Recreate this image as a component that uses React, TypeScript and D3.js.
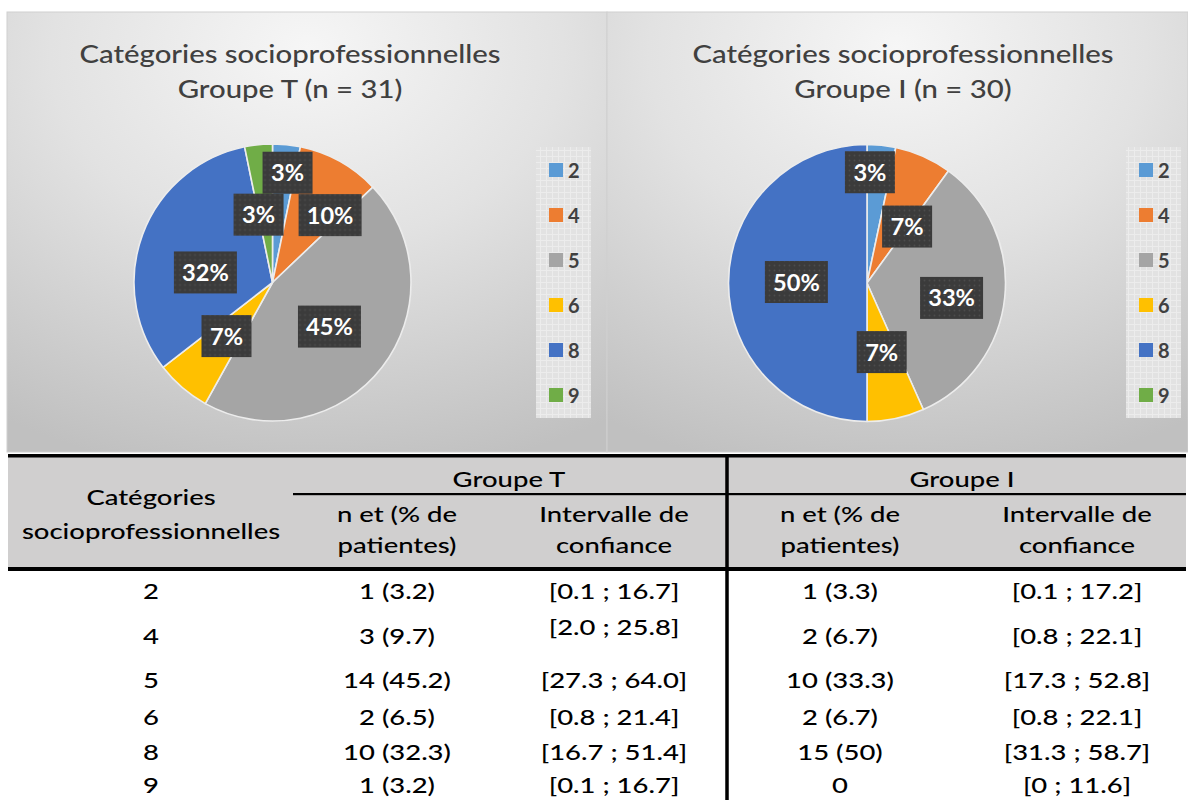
import React from "react";
import * as d3 from "d3";

// ---------- data ----------
const categories = ["2", "4", "5", "6", "8", "9"];
const groupTCounts = [1, 3, 14, 2, 10, 1];
const groupICounts = [1, 2, 10, 2, 15, 0];
const titleT = ["Catégories socioprofessionnelles", "Groupe T (n = 31)"];
const titleI = ["Catégories socioprofessionnelles", "Groupe I (n = 30)"];

const tableTN = ["1 (3.2)", "3 (9.7)", "14 (45.2)", "2 (6.5)", "10 (32.3)", "1 (3.2)"];
const tableTCI = ["[0.1 ; 16.7]", "[2.0 ; 25.8]", "[27.3 ; 64.0]", "[0.8 ; 21.4]", "[16.7 ; 51.4]", "[0.1 ; 16.7]"];
const tableIN = ["1 (3.3)", "2 (6.7)", "10 (33.3)", "2 (6.7)", "15 (50)", "0"];
const tableICI = ["[0.1 ; 17.2]", "[0.8 ; 22.1]", "[17.3 ; 52.8]", "[0.8 ; 22.1]", "[31.3 ; 58.7]", "[0 ; 11.6]"];
const headerCat = ["Catégories", "socioprofessionnelles"];
const headerGroups = ["Groupe T", "Groupe I"];
const headerN = ["n et (% de", "patientes)"];
const headerCI = ["Intervalle de", "confiance"];

// ---------- styles / layout ----------
const sliceColors = ["#5B9BD5", "#ED7D31", "#A5A5A5", "#FFC000", "#4472C4", "#70AD47"];
// label placement (fraction of radius, angular shift in degrees) — Excel best-fit
const labelRadiusT = [0.8, 0.64, 0.52, 0.51, 0.49, 0.5];
const labelShiftT = [2, 11.5, 0, 0, -11.8, -5.8];
const labelRadiusI = [0.8, 0.5, 0.62, 0.51, 0.51, 0.5];
const labelShiftI = [-4.5, 11.4, 4, 0, 0.8, 0];
const rowBaselines = [599, 644, 688, 725, 760, 793];
const ciTRowLift = [0, 9, 0, 0, 0, 0];

const W = 1188;
const H = 800;
const R = 138.5;
const FONT = "Lato, 'Open Sans', sans-serif";

// percentages rounded so that they sum to 100 (largest remainder)
function roundedPercents(values: number[]): number[] {
  const total = d3.sum(values);
  const raw = values.map((v) => (v / total) * 100);
  const floors = raw.map((r) => Math.floor(r));
  let missing = 100 - d3.sum(floors);
  const order = d3.range(values.length).sort((a, b) => (raw[b] - floors[b]) - (raw[a] - floors[a]));
  for (const i of order) {
    if (missing <= 0) break;
    if (values[i] > 0) {
      floors[i] += 1;
      missing -= 1;
    }
  }
  return floors;
}

type TxtProps = {
  x: number;
  y: number;
  sx?: number;
  children: React.ReactNode;
  [k: string]: any;
};
const Txt = ({ x, y, sx = 1, children, ...rest }: TxtProps) => (
  <text
    transform={`translate(${x},${y}) scale(${sx},1)`}
    textAnchor="middle"
    fontFamily={FONT}
    {...rest}
  >
    {children}
  </text>
);

function Pie({
  cx,
  cy,
  values,
  labelRadius,
  labelShift,
}: {
  cx: number;
  cy: number;
  values: number[];
  labelRadius: number[];
  labelShift: number[];
}) {
  const pcts = roundedPercents(values);
  const arcs = d3
    .pie<number>()
    .sort(null)
    .value((d) => d)(values);
  const arc = d3
    .arc<d3.PieArcDatum<number>>()
    .innerRadius(0)
    .outerRadius(R);
  return (
    <g transform={`translate(${cx},${cy})`}>
      {arcs.map((a, i) =>
        a.value > 0 ? (
          <path
            key={i}
            d={arc(a) || ""}
            fill={sliceColors[i]}
            stroke="#ececec"
            strokeWidth={1.6}
            strokeLinejoin="round"
          />
        ) : null
      )}
      {arcs.map((a, i) => {
        if (a.value <= 0) return null;
        const mid = (a.startAngle + a.endAngle) / 2 + (labelShift[i] * Math.PI) / 180;
        const f = labelRadius[i];
        const x = Math.sin(mid) * R * f;
        const y = -Math.cos(mid) * R * f;
        const label = `${pcts[i]}%`;
        const bw = 24 + 13 * label.length;
        const bh = 42;
        return (
          <g key={"l" + i}>
            <rect x={x - bw / 2} y={y - bh / 2} width={bw} height={bh} fill="url(#dots)" />
            <Txt x={x} y={y + 8.5} sx={1.05} fontSize={22.5} fontWeight="bold" fill="#ffffff">
              {label}
            </Txt>
          </g>
        );
      })}
    </g>
  );
}

function Legend({ x }: { x: number }) {
  const y = d3.scalePoint<string>().domain(categories).range([170, 395]);
  return (
    <g>
      <rect x={x} y={147} width={55} height={271} fill="url(#grid)" />
      {categories.map((c, i) => (
        <g key={c}>
          <rect x={x + 13} y={(y(c) as number) - 7} width={14} height={14} fill={sliceColors[i]} />
          <text
            x={x + 32}
            y={(y(c) as number) + 7.5}
            fontFamily={FONT}
            fontSize={20}
            fontWeight="bold"
            fill="#404040"
          >
            {c}
          </text>
        </g>
      ))}
    </g>
  );
}

function Panel({
  x,
  w,
  title,
  titleX,
  children,
}: {
  x: number;
  w: number;
  title: string[];
  titleX: number;
  children: React.ReactNode;
}) {
  return (
    <g>
      <rect x={x} y={12} width={w} height={440} fill="url(#bg)" stroke="#cfcfcf" strokeWidth={1} />
      <Txt x={titleX} y={63} sx={1.15} fontSize={25.5} fontWeight={500} fill="#404040">
        {title[0]}
      </Txt>
      <Txt x={titleX} y={98} sx={1.15} fontSize={25.5} fontWeight={500} fill="#404040">
        {title[1]}
      </Txt>
      {children}
    </g>
  );
}

function Table() {
  const TS = 1.36;
  const FS = 20.2;
  const FW = 500;
  const colCat = 151;
  const colTN = 397;
  const colTCI = 614;
  const colIN = 840;
  const colICI = 1077;
  const left = 8;
  const right = 1186;
  const divX = 727;
  const t = { sx: TS, fontSize: FS, fontWeight: FW, fill: "#000" };
  return (
    <g>
      <rect x={left} y={457} width={right - left} height={111} fill="#d0cfcf" />
      <rect x={left} y={454} width={right - left} height={3.5} fill="#000" />
      <rect x={left} y={567} width={right - left} height={4} fill="#000" />
      <rect x={293} y={493} width={divX - 293} height={2.2} fill="#000" />
      <rect x={divX} y={493} width={right - divX} height={2.2} fill="#000" />
      <rect x={divX - 1.75} y={454} width={3.5} height={H - 454} fill="#000" />

      <Txt x={colCat} y={505} {...t}>{headerCat[0]}</Txt>
      <Txt x={colCat} y={539} {...t}>{headerCat[1]}</Txt>
      <Txt x={509} y={487} {...t}>{headerGroups[0]}</Txt>
      <Txt x={962} y={487} {...t}>{headerGroups[1]}</Txt>
      {[colTN, colIN].map((cx) => (
        <g key={"hn" + cx}>
          <Txt x={cx} y={522} {...t}>{headerN[0]}</Txt>
          <Txt x={cx} y={553} {...t}>{headerN[1]}</Txt>
        </g>
      ))}
      {[colTCI, colICI].map((cx) => (
        <g key={"hc" + cx}>
          <Txt x={cx} y={522} {...t}>{headerCI[0]}</Txt>
          <Txt x={cx} y={553} {...t}>{headerCI[1]}</Txt>
        </g>
      ))}

      {categories.map((c, i) => (
        <g key={"r" + c}>
          <Txt x={colCat} y={rowBaselines[i]} {...t}>{c}</Txt>
          <Txt x={colTN} y={rowBaselines[i]} {...t}>{tableTN[i]}</Txt>
          <Txt x={colTCI} y={rowBaselines[i] - ciTRowLift[i]} {...t}>{tableTCI[i]}</Txt>
          <Txt x={colIN} y={rowBaselines[i]} {...t}>{tableIN[i]}</Txt>
          <Txt x={colICI} y={rowBaselines[i]} {...t}>{tableICI[i]}</Txt>
        </g>
      ))}
    </g>
  );
}

export default function App() {
  return (
    <svg
      width={W}
      height={H}
      viewBox={`0 0 ${W} ${H}`}
      style={{ position: "absolute", left: 0, top: 0, background: "#fff" }}
    >
      <defs>
        <radialGradient id="bg" cx="0.5" cy="0.12" r="0.95" fx="0.5" fy="0.08">
          <stop offset="0" stopColor="#f6f6f6" />
          <stop offset="0.45" stopColor="#e2e2e2" />
          <stop offset="1" stopColor="#c0c0c0" />
        </radialGradient>
        <pattern id="dots" width="5" height="5" patternUnits="userSpaceOnUse">
          <rect width="5" height="5" fill="#3b3b3b" />
          <circle cx="2.5" cy="2.5" r="0.9" fill="#4c4c4c" />
        </pattern>
        <pattern id="grid" width="6" height="6" patternUnits="userSpaceOnUse">
          <rect width="6" height="6" fill="#e2e2e2" />
          <path d="M0 0.5H6M0.5 0V6" stroke="#ececec" strokeWidth={1} />
        </pattern>
      </defs>
      <rect width={W} height={H} fill="#fff" />
      <Panel x={7} w={600} title={titleT} titleX={290}>
        <Pie cx={272.5} cy={282.5} values={groupTCounts} labelRadius={labelRadiusT} labelShift={labelShiftT} />
        <Legend x={536} />
      </Panel>
      <Panel x={607} w={581} title={titleI} titleX={903}>
        <Pie cx={867} cy={283} values={groupICounts} labelRadius={labelRadiusI} labelShift={labelShiftI} />
        <Legend x={1126} />
      </Panel>
      <Table />
    </svg>
  );
}
